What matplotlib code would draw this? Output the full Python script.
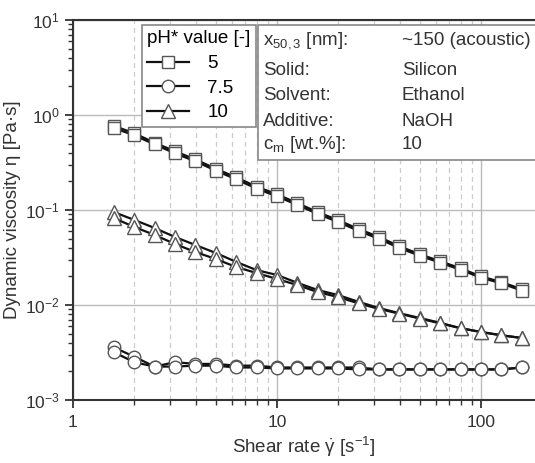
import matplotlib.pyplot as plt
from matplotlib.lines import Line2D
from matplotlib.patches import Rectangle
from matplotlib.ticker import LogLocator, NullFormatter

plt.rcParams['font.family'] = ['Liberation Sans', 'DejaVu Sans']
plt.rcParams['mathtext.fontset'] = 'custom'
plt.rcParams['mathtext.rm'] = 'Liberation Sans'
plt.rcParams['mathtext.it'] = 'Liberation Sans:italic'
plt.rcParams['mathtext.default'] = 'regular'

# shear rate [1/s]
shear = [1.58, 2.0, 2.51, 3.16, 3.98, 5.01, 6.31, 7.94, 10.0, 12.6, 15.8,
         20.0, 25.1, 31.6, 39.8, 50.1, 63.1, 79.4, 100, 126, 158]

# pH 5 (two ramps)
sq_up = [0.77, 0.64, 0.51, 0.415, 0.34, 0.272, 0.22, 0.176, 0.146, 0.118, 0.095,
         0.078, 0.063, 0.052, 0.0415, 0.0342, 0.0289, 0.0243, 0.0200, 0.0174, 0.0147]
sq_dn = [0.73, 0.61, 0.49, 0.395, 0.325, 0.26, 0.21, 0.168, 0.139, 0.113, 0.091,
         0.0745, 0.0603, 0.0497, 0.0398, 0.0330, 0.0279, 0.0235, 0.0194, 0.0169, 0.0142]
# pH 7.5
ci_up = [0.0036, 0.00285, 0.00225, 0.0025, 0.0024, 0.0024, 0.0023, 0.0023, 0.0022, 0.0022, 0.0022,
         0.0022, 0.0022, 0.0021, 0.0021, 0.0021, 0.0021, 0.0021, 0.0021, 0.0021, 0.0022]
ci_dn = [0.0032, 0.0025, 0.00225, 0.00225, 0.0023, 0.0023, 0.0022, 0.0022, 0.00215, 0.00215, 0.00215,
         0.00215, 0.0021, 0.0021, 0.0021, 0.0021, 0.0021, 0.0021, 0.0021, 0.0021, 0.0022]
# pH 10
tr_up = [0.0953, 0.0785, 0.0647, 0.052, 0.0428, 0.0353, 0.0284, 0.0233, 0.0207, 0.0171, 0.0144,
         0.0127, 0.0108, 0.0093, 0.0082, 0.0073, 0.0065, 0.0057, 0.0052, 0.0048, 0.0045]
tr_dn = [0.0824, 0.0662, 0.0546, 0.0439, 0.0361, 0.0305, 0.0251, 0.0217, 0.0188, 0.0162, 0.0137,
         0.0121, 0.0104, 0.0091, 0.0081, 0.0072, 0.0064, 0.0057, 0.0052, 0.0048, 0.0045]

ph_labels = ['5', '7.5', '10']
info_keys = [r'x$_{50,3}$ [nm]:', 'Solid:', 'Solvent:', 'Additive:', r'c$_m$ [wt.%]:']
info_vals = ['~150 (acoustic)', 'Silicon', 'Ethanol', 'NaOH', '10']

fig = plt.figure(figsize=(5.35, 4.63), dpi=100)
ax = fig.add_axes([0.1364, 0.136, 0.8636, 0.821])

mec = '#555555'
series = [(sq_up, sq_dn, 's', 8.5), (ci_up, ci_dn, 'o', 9), (tr_up, tr_dn, '^', 9.5)]
for up, dn, m, ms in series:
    for ys in (up, dn):
        ax.plot(shear, ys, color='#111111', lw=1.6, zorder=3)
for up, dn, m, ms in series:
    for ys in (up, dn):
        ax.plot(shear, ys, ls='none', marker=m, ms=ms, mfc='white', mec=mec,
                mew=1.0, zorder=4)

ax.set_xscale('log')
ax.set_yscale('log')
ax.set_xlim(1, 184)
ax.set_ylim(1e-3, 1e1)

ax.xaxis.set_minor_locator(LogLocator(base=10, subs=range(2, 10)))
ax.yaxis.set_minor_locator(LogLocator(base=10, subs=range(2, 10)))
ax.xaxis.set_minor_formatter(NullFormatter())
ax.yaxis.set_minor_formatter(NullFormatter())
ax.set_xticks([1, 10, 100])
ax.set_xticklabels(['1', '10', '100'])

ax.grid(True, which='major', color='#bbbbbb', lw=1.0)
ax.grid(True, which='minor', axis='x', color='#cccccc', lw=0.9, ls=(0, (4, 3)))
ax.set_axisbelow(True)

for s in ['left', 'bottom', 'top']:
    ax.spines[s].set_color('#333333')
    ax.spines[s].set_linewidth(1.5)
ax.spines['right'].set_visible(False)
ax.tick_params(which='major', direction='out', length=6, width=1.3,
               color='#333333', labelsize=12.5, labelcolor='#333333')
ax.tick_params(which='minor', direction='out', length=3.5, width=1.0, color='#333333')
ax.tick_params(axis='x', pad=5)

ax.set_xlabel(r'Shear rate $\dot{\gamma}$ [s$^{-1}$]', fontsize=13.5, color='#333333', labelpad=3)
ax.set_ylabel('Dynamic viscosity η [Pa·s]', fontsize=13.5, color='#333333', labelpad=3)

handles = [Line2D([], [], color='#111111', lw=1.6, marker=m, ms=ms, mfc='white',
                  mec=mec, mew=1.0) for _, _, m, ms in series]
leg = ax.legend(handles, ph_labels, title='pH* value [-]', loc='upper left',
                bbox_to_anchor=(0.149, 0.987), borderaxespad=0, fontsize=13.5,
                title_fontsize=13.5, frameon=True, fancybox=False, framealpha=1,
                edgecolor='#888888', handlelength=2.2, handletextpad=1.0,
                labelspacing=0.4, borderpad=0.3, alignment='left')
leg.get_frame().set_linewidth(1.2)
leg.set_zorder(6)

box = Rectangle((0.4, 0.632), 0.7, 0.355, transform=ax.transAxes, fc='white',
                ec='#888888', lw=1.2, zorder=6, clip_on=False)
ax.add_patch(box)
row_y = [0.947, 0.868, 0.80, 0.734, 0.671]
for k, v, y in zip(info_keys, info_vals, row_y):
    ax.text(0.411, y, k, transform=ax.transAxes, fontsize=13.5, va='center',
            color='#333333', zorder=7)
    ax.text(0.712, y, v, transform=ax.transAxes, fontsize=13.5, va='center',
            color='#333333', zorder=7)

fig.savefig('out.png', dpi=100)
